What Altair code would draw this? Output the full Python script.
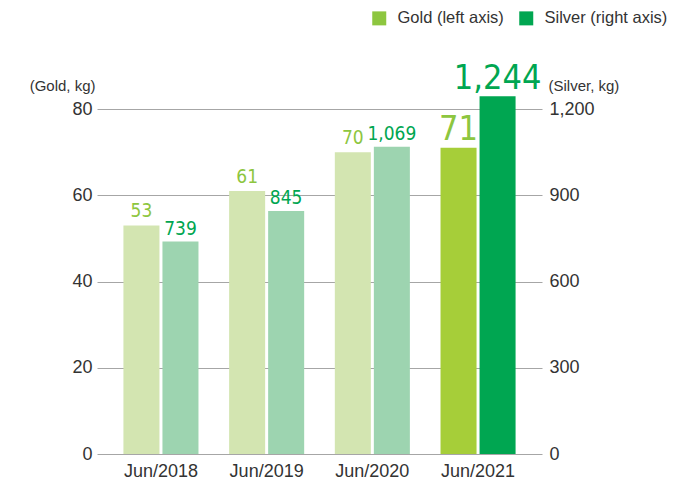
import altair as alt
import pandas as pd

years = ["Jun/2018", "Jun/2019", "Jun/2020", "Jun/2021"]
gold = [53, 61, 70, 71]
silver = [739, 845, 1069, 1244]
series_names = ["Gold (left axis)", "Silver (right axis)"]
gold_ticks = [0, 20, 40, 60, 80]
silver_ticks = [0, 300, 600, 900, 1200]

rows = []
for y, g, s in zip(years, gold, silver):
    rows.append({"year": y, "series": series_names[0], "value": g})
    rows.append({"year": y, "series": series_names[1], "value": s})
df = pd.DataFrame(rows)

HL = "Jun/2021"
LABEL_FONT = "Liberation Sans Narrow, DejaVu Sans Condensed, Liberation Sans"
AX_FONT = "Liberation Sans, Arial, Helvetica"

# colour keys: legend entries + bar shades
color_domain = series_names + ["g_hl", "s_hl", "g_lt", "s_lt"]
color_range = ["#8dc63f", "#00a651", "#a6ce39", "#00a651", "#d3e5b1", "#9dd4b0"]

x_enc = alt.X("year:N", sort=years,
              scale=alt.Scale(paddingInner=0.29, paddingOuter=0.25),
              axis=alt.Axis(title=None, labelAngle=0, ticks=False, domain=False,
                            labelPadding=8, labelFontSize=18, labelColor="#333333",
                            labelFont=AX_FONT, grid=False))
xo_enc = alt.XOffset("series:N", scale=alt.Scale(domain=series_names, paddingInner=0.077))
color_enc = alt.Color("ckey:N",
                      scale=alt.Scale(domain=color_domain, range=color_range),
                      legend=alt.Legend(title=None, values=series_names, orient="none",
                                        legendX=274, legendY=-99,
                                        direction="horizontal", symbolType="square",
                                        symbolSize=196, symbolStrokeWidth=0,
                                        labelFontSize=16.5, labelColor="#333333",
                                        labelFont=AX_FONT, labelOffset=10,
                                        columnPadding=14))

size_cond = alt.condition(alt.datum.year == HL, alt.value(34), alt.value(19))

gold_base = alt.Chart(df).transform_filter(alt.datum.series == series_names[0])
gold_y = alt.Y("value:Q", scale=alt.Scale(domain=[0, 80], nice=False),
               axis=alt.Axis(orient="left", values=gold_ticks, grid=True, gridColor="#a6a6a6",
                             gridWidth=1, domain=False, ticks=False, labelPadding=5,
                             labelFontSize=18, labelColor="#333333", labelFont=AX_FONT,
                             title="(Gold, kg)", titleAngle=0, titleAlign="right",
                             titleX=-2, titleY=-19, titleBaseline="alphabetic",
                             titleFontWeight="normal", titleFontSize=15,
                             titleColor="#333333", titleFont=AX_FONT))
gold_bar = gold_base.transform_calculate(
    ckey=f"datum.year == '{HL}' ? 'g_hl' : 'g_lt'"
).mark_bar(clip=False).encode(
    x=x_enc, xOffset=xo_enc, y=gold_y, color=color_enc,
)
gold_text = gold_base.mark_text(baseline="alphabetic", dy=-8, font=LABEL_FONT,
                                color="#8dc63f").encode(
    x=x_enc, xOffset=xo_enc, y=gold_y,
    text=alt.Text("value:Q", format=","), size=size_cond,
)
gold_layer = alt.layer(gold_bar, gold_text)

silver_base = alt.Chart(df).transform_filter(alt.datum.series == series_names[1])
silver_y = alt.Y("value:Q", scale=alt.Scale(domain=[0, 1200], nice=False),
                 axis=alt.Axis(orient="right", values=silver_ticks, grid=False,
                               labelExpr="format(datum.value, ',')",
                               domain=False, ticks=False, labelPadding=7,
                               labelFontSize=18, labelColor="#333333", labelFont=AX_FONT,
                               title="(Silver, kg)", titleAngle=0, titleAlign="left",
                               titleX=6, titleY=-19, titleBaseline="alphabetic",
                               titleFontWeight="normal", titleFontSize=15,
                               titleColor="#333333", titleFont=AX_FONT))
silver_bar = silver_base.transform_calculate(
    ckey=f"datum.year == '{HL}' ? 's_hl' : 's_lt'"
).mark_bar(clip=False).encode(
    x=x_enc, xOffset=xo_enc, y=silver_y, color=color_enc,
)
silver_text = silver_base.mark_text(baseline="alphabetic", dy=-7, font=LABEL_FONT,
                                    color="#00a651").encode(
    x=x_enc, xOffset=xo_enc, y=silver_y,
    text=alt.Text("value:Q", format=","), size=size_cond,
)
silver_layer = alt.layer(silver_bar, silver_text)

chart = alt.layer(gold_layer, silver_layer).resolve_scale(y="independent").properties(
    width=445, height=345,
    autosize=alt.AutoSizeParams(type="none"),
    padding={"left": 89, "top": 101, "right": 141, "bottom": 31},
).configure_view(stroke=None)

chart.save("out.html", embed_options={"renderer": "svg", "actions": False})
